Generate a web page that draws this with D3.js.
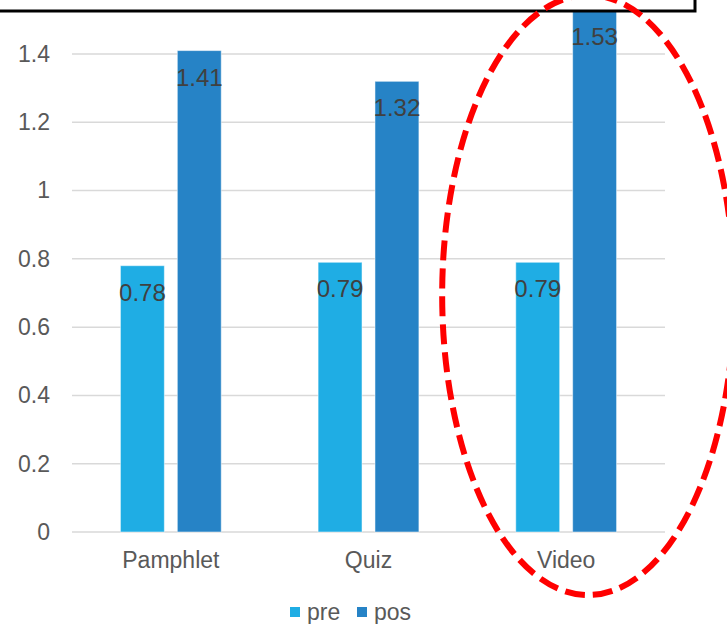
<!DOCTYPE html>
<html>
<head>
<meta charset="utf-8">
<script src="https://cdn.jsdelivr.net/npm/d3@7"></script>
<style>
  body { margin: 0; background: #fff; }
  svg { display: block; font-family: "Liberation Sans", Arial, sans-serif; }
</style>
</head>
<body>
<div id="chart"></div>
<script>
// Data
const categories = ["Pamphlet", "Quiz", "Video"];
const seriesNames = ["pre", "pos"];
const preValues = [0.78, 0.79, 0.79];
const posValues = [1.41, 1.32, 1.53];
const yTicks = [0, 0.2, 0.4, 0.6, 0.8, 1, 1.2, 1.4];

const W = 727, H = 624;
const margin = { top: 0, right: 62, bottom: 92, left: 72 };
const plotW = W - margin.left - margin.right;
const zeroY = 532;
const fontSize = "23px";

const colors = { pre: "#1FADE4", pos: "#2683C6" };

const svg = d3.select("#chart").append("svg")
    .attr("width", W)
    .attr("height", H);

const x0 = d3.scaleBand()
    .domain(categories)
    .range([margin.left, margin.left + plotW])
    .paddingInner(0.49)
    .paddingOuter(0.245);

const x1 = d3.scaleBand()
    .domain(seriesNames)
    .range([0, x0.bandwidth()])
    .paddingInner(0.228);

const y = d3.scaleLinear()
    .domain([0, 1.4])
    .range([zeroY, 54]);

// gridlines
svg.append("g")
    .selectAll("line")
    .data(yTicks)
    .enter()
    .append("line")
    .attr("x1", margin.left)
    .attr("x2", margin.left + plotW)
    .attr("y1", d => y(d))
    .attr("y2", d => y(d))
    .attr("stroke", "#d9d9d9")
    .attr("stroke-width", 1.5);

// y axis labels
const yAxis = svg.append("g")
    .attr("transform", `translate(${margin.left},0)`)
    .call(d3.axisLeft(y).tickValues(yTicks).tickSize(0).tickPadding(22).tickFormat(d3.format("~g")));
yAxis.select(".domain").remove();
yAxis.attr("font-size", null).attr("font-family", null);
yAxis.selectAll("text")
    .attr("fill", "#595959")
    .style("font-size", fontSize);

// x axis labels
const xAxis = svg.append("g")
    .attr("transform", `translate(0,${zeroY})`)
    .call(d3.axisBottom(x0).tickSize(0).tickPadding(20));
xAxis.select(".domain").remove();
xAxis.attr("font-size", null).attr("font-family", null);
xAxis.selectAll("text")
    .attr("fill", "#595959")
    .style("font-size", fontSize);

const rows = categories.map((c, i) => ({ cat: c, pre: preValues[i], pos: posValues[i] }));

const groups = svg.append("g")
    .selectAll("g")
    .data(rows)
    .enter()
    .append("g")
    .attr("transform", d => `translate(${x0(d.cat)},0)`);

const bars = groups.selectAll("g.bar")
    .data(d => seriesNames.map(s => ({ key: s, value: d[s] })))
    .enter()
    .append("g")
    .attr("class", "bar");

bars.append("rect")
    .attr("x", d => x1(d.key))
    .attr("width", x1.bandwidth())
    .attr("y", d => y(d.value))
    .attr("height", d => zeroY - y(d.value))
    .attr("fill", d => colors[d.key])
    .attr("stroke", "#ffffff")
    .attr("stroke-opacity", 0.5)
    .attr("stroke-width", 1);

bars.append("text")
    .attr("x", d => x1(d.key) + x1.bandwidth() / 2)
    .attr("y", d => y(d.value) + 35)
    .attr("text-anchor", "middle")
    .attr("fill", "#404040")
    .style("font-size", "24px")
    .text(d => d.value.toFixed(2));

// top box (partly off the page)
svg.append("rect")
    .attr("x", -10)
    .attr("y", -40)
    .attr("width", 705)
    .attr("height", 51)
    .attr("fill", "#ffffff")
    .attr("stroke", "#000")
    .attr("stroke-width", 3);

// red dashed ellipse around Video
svg.append("ellipse")
    .attr("cx", x0("Video") + x0.bandwidth() / 2 + 22)
    .attr("cy", 295)
    .attr("rx", 146)
    .attr("ry", 300)
    .attr("fill", "none")
    .attr("stroke", "#ff0000")
    .attr("stroke-width", 6)
    .attr("stroke-dasharray", "20,8");

// legend
const legend = svg.append("g")
    .attr("transform", "translate(290,607)");
const items = legend.selectAll("g")
    .data(seriesNames)
    .enter()
    .append("g")
    .attr("transform", (d, i) => `translate(${i * 67},0)`);
items.append("rect")
    .attr("width", 10)
    .attr("height", 10)
    .attr("fill", d => colors[d]);
items.append("text")
    .attr("x", 17)
    .attr("y", 13)
    .attr("fill", "#595959")
    .style("font-size", fontSize)
    .text(d => d);
</script>
</body>
</html>
